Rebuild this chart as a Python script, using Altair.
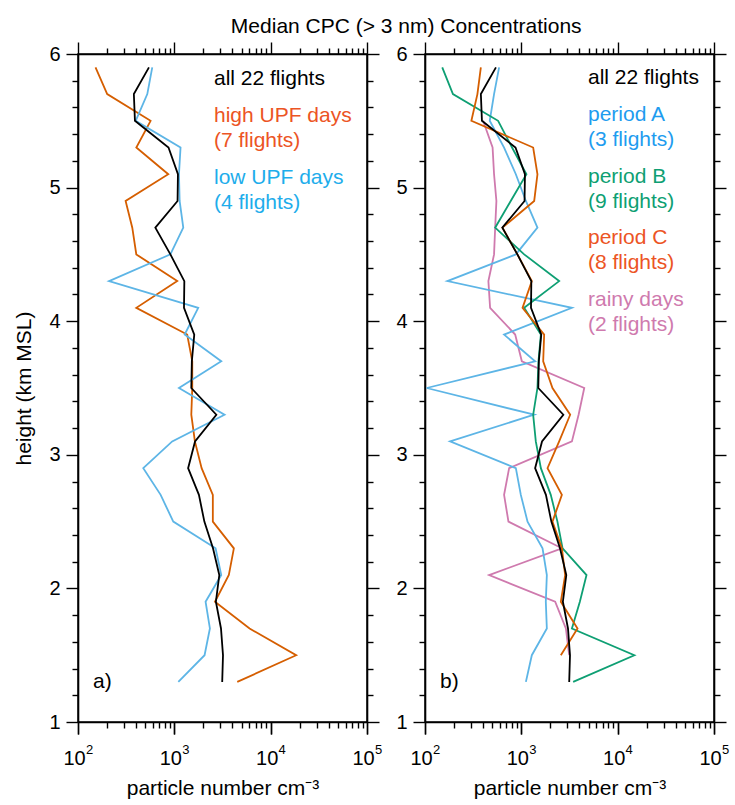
import altair as alt
import pandas as pd

# ---------------- data ----------------
heights = [5.9, 5.7, 5.5, 5.3, 5.1, 4.9, 4.7, 4.5, 4.3, 4.1, 3.9, 3.7,
           3.5, 3.3, 3.1, 2.9, 2.7, 2.5, 2.3, 2.1, 1.9, 1.7, 1.5, 1.3]

all_flights = [545, 380, 390, 870, 1090, 1080, 635, 910, 1270, 1260, 1610, 1520,
               1500, 2730, 1640, 1390, 1800, 2050, 2520, 2930, 2700, 3050, 3200, 3140]

high_upf = [152, 201, 567, 403, 865, 312, 366, 403, 1072, 403, 1360, 1535,
            1535, 1500, 1635, 1920, 2510, 2510, 4150, 3680, 2640, 6040, 18400, 4500]

low_upf = [590, 524, 397, 1160, 1117, 1135, 1238, 910, 210, 1770, 1280, 3070,
           1117, 3320, 950, 476, 721, 975, 2680, 3070, 2110, 2340, 2060, 1100]

period_a = [588, 521, 470, 662, 877, 1115, 1470, 877, 171, 3350, 662, 1390,
            104, 1360, 182, 877, 988, 1160, 1660, 1840, 1795, 1840, 1285, 1115]

period_b = [151, 195, 574, 801, 1130, 776, 535, 1070, 2470, 1070, 1595, 1506,
            1470, 1327, 1413, 1595, 2021, 2370, 2680, 4750, 4050, 3350, 14900, 3450]

# period C: 5.9 .. 1.5 km
period_c = [380, 350, 303, 1327, 1470, 1360, 637, 910, 1285, 1029, 1726, 1686,
            2105, 3215, 2470, 1870, 2636, 2105, 2636, 2850, 2570, 3830, 2570]

# rainy days: 5.5 .. 1.5 km
rainy_heights = heights[2:23]
rainy = [401, 503, 521, 551, 535, 521, 455, 474, 863, 1012, 4500, 3930,
         3350, 747, 662, 735, 2636, 463, 2245, 2900, 3140]

series_names = ["high UPF", "low UPF", "rainy", "A", "B", "C", "all"]
series_colors = ["#D55E00", "#5DB5E6", "#CF7AAE", "#5DB5E6", "#0E9F73", "#D55E00", "#000000"]

x_major = [100, 1000, 10000, 100000]
x_minor = [m * 10 ** k for k in (2, 3, 4) for m in range(2, 10)]
y_major = [1, 2, 3, 4, 5, 6]
y_minor = [round(1 + 0.2 * i, 1) for i in range(26) if i % 5 != 0]

FONT = "Liberation Sans"


def long_df(series_dict):
    rows = []
    for name, (hs, vals) in series_dict.items():
        for h, v in zip(hs, vals):
            rows.append({"series": name, "height": h, "value": v})
    return pd.DataFrame(rows)


exp_expr = ("datum.value == 100 ? '2' : datum.value == 1000 ? '3' : "
            "datum.value == 10000 ? '4' : '5'")

xscale = alt.Scale(type="log", domain=[100, 100000], nice=False)
yscale = alt.Scale(domain=[1, 6], nice=False, zero=False)

base_axis = dict(grid=False, domain=False, tickColor="black", tickWidth=1.4,
                 domainColor="black", domainWidth=1.6,
                 labelFont=FONT, labelColor="black",
                 titleFont=FONT, titleFontSize=21, titleFontWeight="normal",
                 titleColor="black", labelOverlap=False, labelFlush=False)


def ax(orient, values, size, **kw):
    opts = dict(base_axis)
    opts.update(kw)
    if "labels" not in kw:
        opts["labels"] = False
    if "title" not in kw:
        opts["title"] = None
    return alt.Axis(orient=orient, values=values, tickSize=size, **opts)


def panel(df, legend_items, tag, ytitle):
    base = alt.Chart(df)
    ytitle_kw = dict(title=ytitle, titlePadding=14) if ytitle else dict(title=None)

    lines = base.mark_line(strokeWidth=1.8).encode(
        x=alt.X("value:Q", scale=xscale,
                axis=ax("bottom", x_major, 12, labels=True, labelExpr="'10'", domain=True,
                        labelFontSize=20, labelPadding=14, labelOffset=-4,
                        title="particle number cm\u207b\u00b3", titlePadding=9)),
        y=alt.Y("height:Q", scale=yscale,
                axis=ax("left", y_major, 12, labels=True, labelFontSize=20, domain=True,
                        labelPadding=6, **ytitle_kw)),
        color=alt.Color("series:N", scale=alt.Scale(domain=series_names, range=series_colors),
                        legend=None),
        order=alt.Order("height:Q", sort="descending"),
    )

    def ghost(xaxis, yaxis):
        return base.mark_line(opacity=0).encode(
            x=alt.X("value:Q", scale=xscale, axis=xaxis),
            y=alt.Y("height:Q", scale=yscale, axis=yaxis),
            detail="series:N",
            order=alt.Order("height:Q", sort="descending"),
        )

    g_minor = ghost(ax("bottom", x_minor, 6), ax("left", y_minor, 6))
    g_top = ghost(ax("top", x_major, 12, domain=True), ax("right", y_major, 12, domain=True))
    g_top_minor = ghost(ax("top", x_minor, 6), ax("right", y_minor, 6))
    g_exp = ghost(ax("bottom", x_major, 12, labels=True, labelExpr=exp_expr,
                     labelFontSize=13, labelPadding=9, labelOffset=11), None)

    layers = [lines, g_minor, g_top, g_top_minor, g_exp]
    for text, color, px, py in legend_items:
        layers.append(
            alt.Chart(pd.DataFrame({"t": [text]})).mark_text(
                font=FONT, fontSize=21, align="left", baseline="alphabetic", color=color
            ).encode(text="t:N", x=alt.value(px), y=alt.value(py))
        )
    layers.append(
        alt.Chart(pd.DataFrame({"t": [tag]})).mark_text(
            font=FONT, fontSize=21, align="left", baseline="alphabetic", color="black"
        ).encode(text="t:N", x=alt.value(15), y=alt.value(634))
    )
    return alt.layer(*layers).resolve_axis(x="independent", y="independent").properties(
        width=289, height=668
    )


df_left = long_df({
    "high UPF": (heights, high_upf),
    "low UPF": (heights, low_upf),
    "all": (heights, all_flights),
})
df_right = long_df({
    "rainy": (rainy_heights, rainy),
    "A": (heights, period_a),
    "B": (heights, period_b),
    "C": (heights[:23], period_c),
    "all": (heights, all_flights),
})

left = panel(
    df_left,
    [("all 22 flights", "#000000", 136, 31),
     ("high UPF days", "#EC5424", 136, 68),
     ("(7 flights)", "#EC5424", 136, 93),
     ("low UPF days", "#1EADEB", 136, 130),
     ("(4 flights)", "#1EADEB", 136, 155)],
    "a)", "height (km MSL)")

right = panel(
    df_right,
    [("all 22 flights", "#000000", 163, 30),
     ("period A", "#1E9CEF", 163, 67),
     ("(3 flights)", "#1E9CEF", 163, 92),
     ("period B", "#0E9F73", 163, 129),
     ("(9 flights)", "#0E9F73", 163, 154),
     ("period C", "#EC5424", 163, 190),
     ("(8 flights)", "#EC5424", 163, 215),
     ("rainy days", "#CF7AAE", 163, 252),
     ("(2 flights)", "#CF7AAE", 163, 277)],
    "b)", None)

chart = alt.hconcat(left, right, spacing=12).properties(
    title=alt.TitleParams("Median CPC (> 3 nm) Concentrations", font=FONT, fontSize=21,
                          fontWeight="normal", color="black", anchor="middle", offset=4, dx=35),
    padding={"left": 13, "top": 15, "right": 5, "bottom": 2},
    background="white",
).configure_view(stroke="black", strokeWidth=1.5)

chart.save("out.html", embed_options={"renderer": "svg", "actions": False})
